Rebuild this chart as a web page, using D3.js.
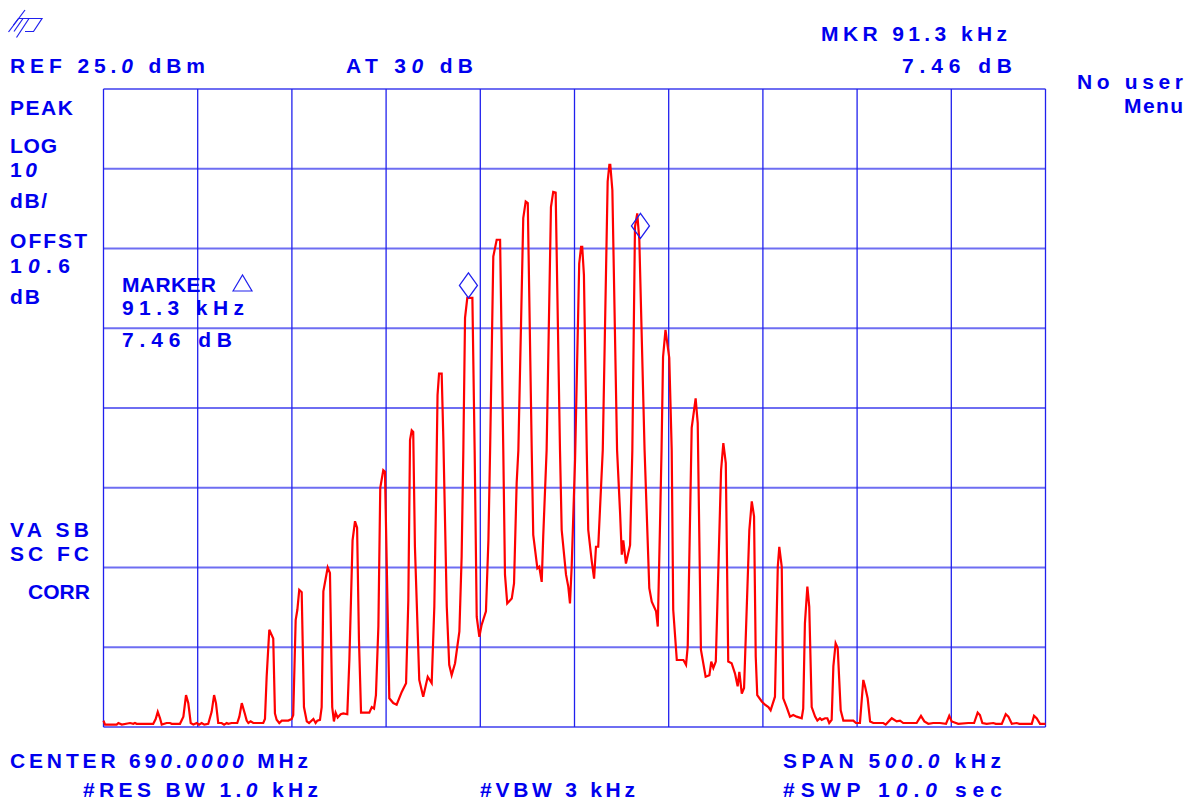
<!DOCTYPE html>
<html>
<head>
<meta charset="utf-8">
<script src="https://cdn.jsdelivr.net/npm/d3@7"></script>
<style>
  html, body { margin: 0; padding: 0; background: #ffffff; }
  svg { display: block; }
  text { font-family: "Liberation Sans", Arial, sans-serif; font-weight: bold; font-size: 21px; fill: #0000ee; white-space: pre; }
</style>
</head>
<body>
<svg id="chart" width="1188" height="800"></svg>
<script>
// ---------------- DATA ----------------
// Frequency offsets from centre (kHz) and measured level (dBm)
const freqKHz = [-250.0,-249.2,-243.0,-242.1,-240.3,-235.9,-234.2,-233.3,-232.4,-223.6,-222.3,-221.2,-220.0,-219.1,-216.5,-214.7,-213.8,-209.4,-207.6,-206.2,-205.0,-203.7,-202.3,-200.5,-199.3,-197.9,-196.5,-194.4,-192.6,-191.3,-190.3,-189.1,-187.3,-186.0,-184.6,-183.8,-182.0,-179.0,-177.9,-176.6,-174.9,-174.0,-173.1,-171.9,-170.5,-165.2,-164.3,-163.4,-162.0,-159.9,-159.0,-158.1,-156.7,-155.4,-151.9,-150.1,-149.3,-148.0,-147.1,-146.1,-144.8,-143.6,-142.1,-140.9,-138.6,-137.4,-136.5,-135.1,-134.2,-133.3,-131.0,-129.8,-128.6,-127.7,-126.8,-125.7,-124.1,-122.7,-120.6,-119.5,-117.8,-116.5,-115.4,-114.4,-113.3,-108.9,-107.6,-106.4,-105.4,-104.1,-103.1,-101.5,-100.6,-98.3,-96.2,-94.4,-91.7,-89.4,-88.2,-87.3,-86.4,-85.6,-84.7,-82.4,-80.3,-77.9,-75.8,-74.4,-73.5,-72.7,-71.9,-70.5,-69.6,-67.8,-66.5,-65.2,-63.4,-61.1,-59.9,-59.0,-58.1,-56.9,-54.2,-53.0,-51.9,-50.5,-49.3,-47.0,-45.7,-44.8,-43.1,-41.3,-39.5,-37.8,-36.9,-35.7,-33.3,-32.1,-30.7,-29.8,-27.2,-25.9,-24.8,-22.7,-21.9,-19.7,-18.7,-17.4,-16.6,-14.8,-12.5,-11.3,-10.0,-7.7,-6.8,-4.5,-3.3,-2.4,-1.5,0.3,2.5,3.5,4.1,5.0,6.5,7.3,9.1,10.4,11.4,12.6,15.0,17.6,18.5,19.0,20.1,22.6,24.2,25.1,25.9,27.3,29.5,30.7,32.1,33.3,34.4,37.2,39.7,41.0,43.3,44.2,45.4,46.2,47.0,48.3,50.3,51.6,52.4,54.3,57.8,59.2,60.1,62.2,64.3,65.4,67.1,69.6,71.6,72.6,73.7,75.0,77.8,79.0,80.3,81.6,83.4,85.2,86.6,87.5,88.8,90.0,92.8,94.1,95.3,96.2,97.0,99.4,101.1,102.9,104.1,106.4,107.9,108.7,110.0,110.8,112.6,114.4,116.1,117.9,120.6,121.4,122.3,123.6,124.6,125.9,127.7,128.9,130.3,131.2,133.0,134.2,135.2,136.5,137.4,138.6,139.7,141.3,142.7,148.0,149.4,151.5,153.3,154.2,155.6,156.9,158.6,163.9,165.2,168.4,171.0,172.8,174.5,179.8,181.6,183.9,185.7,187.8,190.4,194.0,197.2,198.9,200.2,203.7,209.0,212.1,214.0,215.2,216.5,218.8,222.3,223.6,226.8,228.9,230.3,232.1,234.7,236.1,242.7,243.9,245.3,247.1,250.0];
const levelDBm = [-54.2,-54.7,-54.7,-54.5,-54.7,-54.5,-54.6,-54.5,-54.6,-54.6,-54.0,-53.1,-53.9,-54.7,-54.5,-54.5,-54.6,-54.6,-53.7,-51.0,-52.0,-54.5,-54.7,-54.5,-54.7,-54.5,-54.7,-54.6,-53.1,-51.0,-52.0,-54.5,-54.5,-54.7,-54.5,-54.6,-54.5,-54.5,-53.7,-52.0,-53.4,-54.2,-54.5,-54.3,-54.5,-54.5,-54.0,-48.7,-42.8,-43.9,-53.3,-54.1,-54.5,-54.2,-54.2,-54.0,-53.5,-41.6,-40.3,-37.8,-38.1,-52.5,-54.3,-54.5,-54.0,-54.5,-54.2,-54.1,-52.5,-38.0,-35.0,-35.7,-52.5,-54.3,-53.2,-53.8,-53.4,-53.3,-53.4,-46.6,-31.6,-29.2,-30.0,-44.1,-53.2,-53.2,-52.5,-52.7,-51.0,-42.4,-25.0,-22.8,-23.0,-51.4,-52.0,-52.2,-50.6,-49.5,-39.1,-19.0,-17.8,-18.0,-32.4,-49.1,-51.2,-48.7,-49.5,-39.9,-26.5,-13.4,-10.7,-10.7,-19.0,-39.9,-47.2,-48.5,-47.0,-43.0,-33.6,-20.3,-3.7,-1.2,-1.2,-20.3,-41.2,-43.7,-42.2,-40.5,-31.6,-20.3,4.0,6.1,6.1,-20.3,-35.9,-39.5,-38.9,-37.0,-24.4,-20.3,8.8,10.9,10.7,-20.3,-30.9,-35.1,-34.9,-36.8,-31.1,-20.3,10.2,12.1,12.0,-20.3,-30.3,-35.9,-37.4,-39.5,-34.9,-21.5,3.1,5.2,5.2,1.7,-20.3,-30.3,-34.1,-36.4,-32.4,-32.4,-20.3,13.4,15.5,15.5,12.3,-20.3,-28.2,-33.4,-31.6,-34.5,-32.2,-20.3,7.7,9.4,6.1,-20.3,-37.6,-39.3,-40.5,-42.4,-29.5,-20.3,-8.6,-5.2,-8.7,-20.3,-40.3,-46.6,-46.6,-47.2,-44.9,-17.5,-13.8,-16.9,-45.3,-48.7,-48.5,-46.8,-47.6,-46.8,-22.8,-19.4,-21.9,-46.8,-47.0,-48.3,-49.9,-48.1,-50.8,-50.1,-30.3,-26.7,-28.6,-46.2,-51.0,-51.8,-52.2,-52.5,-52.9,-51.2,-34.9,-32.4,-34.9,-51.4,-52.5,-53.7,-53.5,-53.7,-53.9,-52.7,-42.0,-37.4,-39.9,-52.5,-53.7,-54.2,-53.9,-54.1,-53.9,-53.9,-54.5,-54.1,-47.4,-44.5,-45.1,-52.9,-54.2,-54.2,-54.5,-54.5,-49.1,-49.9,-51.4,-54.3,-54.5,-54.5,-54.7,-53.9,-54.3,-54.2,-54.5,-54.5,-54.5,-53.6,-54.3,-54.6,-54.5,-54.5,-54.6,-53.6,-54.3,-54.6,-54.5,-54.5,-53.2,-53.5,-54.5,-54.6,-54.5,-54.6,-54.6,-53.4,-53.7,-54.6,-54.5,-54.6,-54.6,-53.6,-53.9,-54.6,-54.6];

// Markers: reference (normal) marker and delta marker
const markerFreqKHz = [-56.3, 35.0];
const markerDBm = [-1.2, 6.26];

// Display scaling
const spanKHz = [-250, 250];      // CENTER 690 MHz, SPAN 500 kHz
const refLevel = 25.0;            // REF 25.0 dBm
const dbPerDiv = 10;
const yDivs = 8;
const xDivs = 10;

// Annotation texts
const headerTexts = ["REF 25.0 dBm", "AT 30 dB", "MKR 91.3 kHz", "7.46 dB", "No user", "Menu"];
const sideTexts = ["PEAK", "LOG", "10", "dB/", "OFFST", "10.6", "dB", "VA SB", "SC FC", "CORR"];
const markerTexts = ["MARKER", "91.3 kHz", "7.46 dB"];
const footerTexts = ["CENTER 690.0000 MHz", "#RES BW 1.0 kHz", "#VBW 3 kHz", "SPAN 500.0 kHz", "#SWP 10.0 sec"];

// ---------------- LAYOUT ----------------
const svg = d3.select("#chart");
const plot = { left: 103.5, right: 1045.5, top: 89, bottom: 727 };

const x = d3.scaleLinear().domain(spanKHz).range([plot.left, plot.right]);
const y = d3.scaleLinear().domain([refLevel - dbPerDiv * yDivs, refLevel]).range([plot.bottom, plot.top]);

// grid
const xTicks = d3.range(xDivs + 1).map(i => spanKHz[0] + i * (spanKHz[1] - spanKHz[0]) / xDivs);
const yTicks = d3.range(yDivs + 1).map(i => refLevel - i * dbPerDiv);

svg.append("g").selectAll("line").data(yTicks).join("line")
  .attr("x1", plot.left).attr("x2", plot.right)
  .attr("y1", d => y(d)).attr("y2", d => y(d))
  .attr("stroke", "#6e6ef2").attr("stroke-width", 2);

svg.append("g").selectAll("line").data(xTicks).join("line")
  .attr("x1", d => x(d)).attr("x2", d => x(d))
  .attr("y1", plot.top).attr("y2", plot.bottom)
  .attr("stroke", "#2020ee").attr("stroke-width", 1.3);

// trace
const pts = freqKHz.map((f, i) => [f, levelDBm[i]]);
const line = d3.line().x(d => x(d[0])).y(d => y(d[1]));
svg.append("path").datum(pts)
  .attr("d", line)
  .attr("fill", "none")
  .attr("stroke", "#ff0000")
  .attr("stroke-width", 2.2)
  .attr("stroke-linejoin", "miter");

// marker diamonds (bottom vertex sits on the marker point)
markerFreqKHz.forEach((f, i) => {
  const cx = x(f), by = y(markerDBm[i]);
  svg.append("path")
    .attr("d", `M${cx},${by} L${cx - 9},${by - 12.5} L${cx},${by - 25} L${cx + 9},${by - 12.5} Z`)
    .attr("fill", "none").attr("stroke", "#2020ee").attr("stroke-width", 1.3);
});

// text helper: zeros drawn slanted like the instrument's slashed zero
function label(str, x0, x1, base) {
  const t = svg.append("text").attr("x", x0).attr("y", base)
    .attr("textLength", x1 - x0).attr("lengthAdjust", "spacing");
  str.split(/(0+)/).forEach(part => {
    if (!part) return;
    const ts = t.append("tspan").text(part);
    if (part[0] === "0") ts.attr("font-style", "italic");
  });
  return t;
}

const headerPos = [[10, 205, 73], [346, 473, 73], [821, 1007, 41], [902, 1012, 73], [1077, 1183, 89], [1124, 1183, 113]];
headerTexts.forEach((s, i) => label(s, ...headerPos[i]));

const sidePos = [[10, 73, 115], [10, 57, 153], [10, 37, 177], [10, 47, 208], [10, 87, 248], [10, 70, 273], [10, 40, 304], [10, 89, 537], [10, 89, 561], [28, 90, 599]];
sideTexts.forEach((s, i) => label(s, ...sidePos[i]));

const markerPos = [[122, 216, 292], [122, 244, 315], [122, 232, 347]];
markerTexts.forEach((s, i) => label(s, ...markerPos[i]));
// delta triangle
svg.append("path").attr("d", "M233,291 L242.5,275 L252,291 Z")
  .attr("fill", "none").attr("stroke", "#2020ee").attr("stroke-width", 1.2);

const footerPos = [[10, 308, 768], [83, 318, 797], [480, 635, 797], [783, 1001, 768], [783, 1002, 797]];
footerTexts.forEach((s, i) => label(s, ...footerPos[i]));

// hp logo
const logo = svg.append("g").attr("fill", "none").attr("stroke", "#2020ee").attr("stroke-width", 1.2);
logo.append("path").attr("d", "M25,10 L8.5,32");
logo.append("path").attr("d", "M13.5,25 L18.5,18.5 L42,18.5 L33.5,31.5 L25,31.5");
logo.append("path").attr("d", "M23,18.5 L14,31.5");
logo.append("path").attr("d", "M29,18.5 L16.5,37.5");
</script>
</body>
</html>
